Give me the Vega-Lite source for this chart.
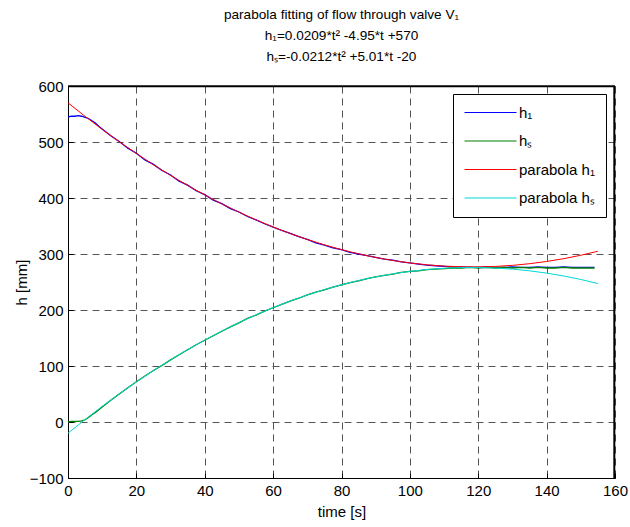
{
  "$schema": "https://vega.github.io/schema/vega-lite/v6.json",
  "width": 547,
  "height": 392,
  "autosize": {"type": "none"},
  "padding": {"left": 68, "top": 86, "right": 15, "bottom": 49},
  "background": "white",
  "config": {
    "font": "Liberation Sans",
    "view": {"stroke": null},
    "axis": {
      "domainColor": "black",
      "domainWidth": 1,
      "tickColor": "black",
      "tickSize": -5,
      "labelColor": "black",
      "labelFontSize": 15,
      "labelPadding": 10,
      "labelFlush": false,
      "titleFontSize": 15,
      "titleFontWeight": "normal",
      "titleColor": "black",
      "gridColor": "#555555",
      "gridDash": [7, 5],
      "gridWidth": 1,
      "gridOpacity": 1
    }
  },
  "title": {
    "text": [
      "parabola fitting of flow through valve V₁",
      "h₁=0.0209*t² -4.95*t +570",
      "hₛ=-0.0212*t² +5.01*t -20"
    ],
    "fontSize": 13.6,
    "fontWeight": "normal",
    "color": "black",
    "anchor": "middle",
    "lineHeight": 21,
    "offset": 15
  },
  "datasets": {
    "measured": [
      {"t": 0, "h": 545, "series": "h₁"}, {"t": 1, "h": 546, "series": "h₁"}, {"t": 2, "h": 546, "series": "h₁"},
      {"t": 3, "h": 547, "series": "h₁"}, {"t": 4, "h": 546, "series": "h₁"}, {"t": 5, "h": 544, "series": "h₁"},
      {"t": 6, "h": 542, "series": "h₁"}, {"t": 7, "h": 538, "series": "h₁"}, {"t": 8, "h": 534, "series": "h₁"},
      {"t": 9, "h": 528, "series": "h₁"}, {"t": 10, "h": 523, "series": "h₁"}, {"t": 12.5, "h": 511, "series": "h₁"},
      {"t": 15, "h": 501, "series": "h₁"}, {"t": 17.5, "h": 489, "series": "h₁"}, {"t": 20, "h": 480, "series": "h₁"},
      {"t": 22.5, "h": 468, "series": "h₁"}, {"t": 25, "h": 460, "series": "h₁"}, {"t": 27.5, "h": 449, "series": "h₁"},
      {"t": 30, "h": 441, "series": "h₁"}, {"t": 32.5, "h": 430, "series": "h₁"}, {"t": 35, "h": 423, "series": "h₁"},
      {"t": 37.5, "h": 413, "series": "h₁"}, {"t": 40, "h": 406, "series": "h₁"}, {"t": 42.5, "h": 396, "series": "h₁"},
      {"t": 45, "h": 390, "series": "h₁"}, {"t": 47.5, "h": 381, "series": "h₁"}, {"t": 50, "h": 375, "series": "h₁"},
      {"t": 52.5, "h": 367, "series": "h₁"}, {"t": 55, "h": 361, "series": "h₁"}, {"t": 57.5, "h": 354, "series": "h₁"},
      {"t": 60, "h": 348, "series": "h₁"}, {"t": 62.5, "h": 342, "series": "h₁"}, {"t": 65, "h": 337, "series": "h₁"},
      {"t": 67.5, "h": 331, "series": "h₁"}, {"t": 70, "h": 326, "series": "h₁"}, {"t": 72.5, "h": 320, "series": "h₁"},
      {"t": 75, "h": 316, "series": "h₁"}, {"t": 77.5, "h": 311, "series": "h₁"}, {"t": 80, "h": 308, "series": "h₁"},
      {"t": 82.5, "h": 303, "series": "h₁"}, {"t": 85, "h": 300, "series": "h₁"}, {"t": 87.5, "h": 297, "series": "h₁"},
      {"t": 90, "h": 294, "series": "h₁"}, {"t": 92.5, "h": 291, "series": "h₁"}, {"t": 95, "h": 289, "series": "h₁"},
      {"t": 97.5, "h": 286, "series": "h₁"}, {"t": 100, "h": 284, "series": "h₁"}, {"t": 102.5, "h": 282, "series": "h₁"},
      {"t": 105, "h": 280, "series": "h₁"}, {"t": 107.5, "h": 279, "series": "h₁"}, {"t": 110, "h": 278, "series": "h₁"},
      {"t": 112.5, "h": 277, "series": "h₁"}, {"t": 115, "h": 277, "series": "h₁"}, {"t": 117.5, "h": 276, "series": "h₁"},
      {"t": 120, "h": 276, "series": "h₁"}, {"t": 122.5, "h": 277, "series": "h₁"}, {"t": 125, "h": 276, "series": "h₁"},
      {"t": 127.5, "h": 276, "series": "h₁"}, {"t": 130, "h": 277, "series": "h₁"}, {"t": 132.5, "h": 276, "series": "h₁"},
      {"t": 135, "h": 276, "series": "h₁"}, {"t": 137.5, "h": 277, "series": "h₁"}, {"t": 140, "h": 276, "series": "h₁"},
      {"t": 142.5, "h": 276, "series": "h₁"}, {"t": 145, "h": 277, "series": "h₁"}, {"t": 147.5, "h": 276, "series": "h₁"},
      {"t": 150, "h": 276, "series": "h₁"}, {"t": 152.5, "h": 276, "series": "h₁"}, {"t": 154, "h": 276, "series": "h₁"},
      {"t": 0, "h": 0, "series": "hₛ"}, {"t": 1, "h": 1, "series": "hₛ"}, {"t": 2, "h": 1, "series": "hₛ"},
      {"t": 3, "h": 1, "series": "hₛ"}, {"t": 4, "h": 2, "series": "hₛ"}, {"t": 5, "h": 4, "series": "hₛ"},
      {"t": 6, "h": 8, "series": "hₛ"}, {"t": 7, "h": 13, "series": "hₛ"}, {"t": 8, "h": 17, "series": "hₛ"},
      {"t": 9, "h": 22, "series": "hₛ"}, {"t": 10, "h": 27, "series": "hₛ"}, {"t": 12.5, "h": 39, "series": "hₛ"},
      {"t": 15, "h": 50, "series": "hₛ"}, {"t": 17.5, "h": 61, "series": "hₛ"}, {"t": 20, "h": 72, "series": "hₛ"},
      {"t": 22.5, "h": 82, "series": "hₛ"}, {"t": 25, "h": 92, "series": "hₛ"}, {"t": 27.5, "h": 101, "series": "hₛ"},
      {"t": 30, "h": 111, "series": "hₛ"}, {"t": 32.5, "h": 120, "series": "hₛ"}, {"t": 35, "h": 129, "series": "hₛ"},
      {"t": 37.5, "h": 138, "series": "hₛ"}, {"t": 40, "h": 146, "series": "hₛ"}, {"t": 42.5, "h": 154, "series": "hₛ"},
      {"t": 45, "h": 162, "series": "hₛ"}, {"t": 47.5, "h": 170, "series": "hₛ"}, {"t": 50, "h": 177, "series": "hₛ"},
      {"t": 52.5, "h": 185, "series": "hₛ"}, {"t": 55, "h": 191, "series": "hₛ"}, {"t": 57.5, "h": 198, "series": "hₛ"},
      {"t": 60, "h": 204, "series": "hₛ"}, {"t": 62.5, "h": 210, "series": "hₛ"}, {"t": 65, "h": 216, "series": "hₛ"},
      {"t": 67.5, "h": 221, "series": "hₛ"}, {"t": 70, "h": 227, "series": "hₛ"}, {"t": 72.5, "h": 232, "series": "hₛ"},
      {"t": 75, "h": 236, "series": "hₛ"}, {"t": 77.5, "h": 241, "series": "hₛ"}, {"t": 80, "h": 245, "series": "hₛ"},
      {"t": 82.5, "h": 249, "series": "hₛ"}, {"t": 85, "h": 252, "series": "hₛ"}, {"t": 87.5, "h": 256, "series": "hₛ"},
      {"t": 90, "h": 259, "series": "hₛ"}, {"t": 92.5, "h": 262, "series": "hₛ"}, {"t": 95, "h": 264, "series": "hₛ"},
      {"t": 97.5, "h": 267, "series": "hₛ"}, {"t": 100, "h": 269, "series": "hₛ"}, {"t": 102.5, "h": 270, "series": "hₛ"},
      {"t": 105, "h": 272, "series": "hₛ"}, {"t": 107.5, "h": 273, "series": "hₛ"}, {"t": 110, "h": 274, "series": "hₛ"},
      {"t": 112.5, "h": 275, "series": "hₛ"}, {"t": 115, "h": 275, "series": "hₛ"}, {"t": 117.5, "h": 276, "series": "hₛ"},
      {"t": 120, "h": 275, "series": "hₛ"}, {"t": 122.5, "h": 276, "series": "hₛ"}, {"t": 125, "h": 275, "series": "hₛ"},
      {"t": 127.5, "h": 276, "series": "hₛ"}, {"t": 130, "h": 275, "series": "hₛ"}, {"t": 132.5, "h": 276, "series": "hₛ"},
      {"t": 135, "h": 275, "series": "hₛ"}, {"t": 137.5, "h": 276, "series": "hₛ"}, {"t": 140, "h": 275, "series": "hₛ"},
      {"t": 142.5, "h": 275, "series": "hₛ"}, {"t": 145, "h": 276, "series": "hₛ"}, {"t": 147.5, "h": 275, "series": "hₛ"},
      {"t": 150, "h": 275, "series": "hₛ"}, {"t": 152.5, "h": 275, "series": "hₛ"}, {"t": 154, "h": 275, "series": "hₛ"}
    ],
    "fitted": [
      {"t": 0, "h": 570, "series": "parabola h₁"}, {"t": 5, "h": 545.77, "series": "parabola h₁"},
      {"t": 10, "h": 522.59, "series": "parabola h₁"}, {"t": 15, "h": 500.45, "series": "parabola h₁"},
      {"t": 20, "h": 479.36, "series": "parabola h₁"}, {"t": 25, "h": 459.31, "series": "parabola h₁"},
      {"t": 30, "h": 440.31, "series": "parabola h₁"}, {"t": 35, "h": 422.35, "series": "parabola h₁"},
      {"t": 40, "h": 405.44, "series": "parabola h₁"}, {"t": 45, "h": 389.57, "series": "parabola h₁"},
      {"t": 50, "h": 374.75, "series": "parabola h₁"}, {"t": 55, "h": 360.97, "series": "parabola h₁"},
      {"t": 60, "h": 348.24, "series": "parabola h₁"}, {"t": 65, "h": 336.55, "series": "parabola h₁"},
      {"t": 70, "h": 325.91, "series": "parabola h₁"}, {"t": 75, "h": 316.31, "series": "parabola h₁"},
      {"t": 80, "h": 307.76, "series": "parabola h₁"}, {"t": 85, "h": 300.25, "series": "parabola h₁"},
      {"t": 90, "h": 293.79, "series": "parabola h₁"}, {"t": 95, "h": 288.37, "series": "parabola h₁"},
      {"t": 100, "h": 284.0, "series": "parabola h₁"}, {"t": 105, "h": 280.67, "series": "parabola h₁"},
      {"t": 110, "h": 278.39, "series": "parabola h₁"}, {"t": 115, "h": 277.15, "series": "parabola h₁"},
      {"t": 120, "h": 276.96, "series": "parabola h₁"}, {"t": 125, "h": 277.81, "series": "parabola h₁"},
      {"t": 130, "h": 279.71, "series": "parabola h₁"}, {"t": 135, "h": 282.65, "series": "parabola h₁"},
      {"t": 140, "h": 286.64, "series": "parabola h₁"}, {"t": 145, "h": 291.67, "series": "parabola h₁"},
      {"t": 150, "h": 297.75, "series": "parabola h₁"}, {"t": 155, "h": 304.87, "series": "parabola h₁"},
      {"t": 0, "h": -20, "series": "parabola hₛ"}, {"t": 5, "h": 4.52, "series": "parabola hₛ"},
      {"t": 10, "h": 27.98, "series": "parabola hₛ"}, {"t": 15, "h": 50.38, "series": "parabola hₛ"},
      {"t": 20, "h": 71.72, "series": "parabola hₛ"}, {"t": 25, "h": 92.0, "series": "parabola hₛ"},
      {"t": 30, "h": 111.22, "series": "parabola hₛ"}, {"t": 35, "h": 129.38, "series": "parabola hₛ"},
      {"t": 40, "h": 146.48, "series": "parabola hₛ"}, {"t": 45, "h": 162.52, "series": "parabola hₛ"},
      {"t": 50, "h": 177.5, "series": "parabola hₛ"}, {"t": 55, "h": 191.42, "series": "parabola hₛ"},
      {"t": 60, "h": 204.28, "series": "parabola hₛ"}, {"t": 65, "h": 216.08, "series": "parabola hₛ"},
      {"t": 70, "h": 226.82, "series": "parabola hₛ"}, {"t": 75, "h": 236.5, "series": "parabola hₛ"},
      {"t": 80, "h": 245.12, "series": "parabola hₛ"}, {"t": 85, "h": 252.68, "series": "parabola hₛ"},
      {"t": 90, "h": 259.18, "series": "parabola hₛ"}, {"t": 95, "h": 264.62, "series": "parabola hₛ"},
      {"t": 100, "h": 269.0, "series": "parabola hₛ"}, {"t": 105, "h": 272.32, "series": "parabola hₛ"},
      {"t": 110, "h": 274.58, "series": "parabola hₛ"}, {"t": 115, "h": 275.78, "series": "parabola hₛ"},
      {"t": 120, "h": 275.92, "series": "parabola hₛ"}, {"t": 125, "h": 275.0, "series": "parabola hₛ"},
      {"t": 130, "h": 273.02, "series": "parabola hₛ"}, {"t": 135, "h": 269.98, "series": "parabola hₛ"},
      {"t": 140, "h": 265.88, "series": "parabola hₛ"}, {"t": 145, "h": 260.72, "series": "parabola hₛ"},
      {"t": 150, "h": 254.5, "series": "parabola hₛ"}, {"t": 155, "h": 247.22, "series": "parabola hₛ"}
    ]
  },
  "layer": [
    {
      "data": {"name": "measured"},
      "mark": {"type": "line", "strokeWidth": 1.3, "interpolate": "linear"},
      "encoding": {
        "x": {"field": "t", "type": "quantitative", "scale": {"domain": [0, 160], "nice": false},
              "axis": {"title": "time [s]", "values": [0, 20, 40, 60, 80, 100, 120, 140, 160], "grid": true, "titlePadding": 6}},
        "y": {"field": "h", "type": "quantitative", "scale": {"domain": [-100, 600], "nice": false, "zero": false},
              "axis": {"title": "h [mm]", "values": [-100, 0, 100, 200, 300, 400, 500, 600], "grid": true, "titlePadding": 0}},
        "color": {
          "field": "series", "type": "nominal",
          "scale": {"domain": ["h₁", "hₛ", "parabola h₁", "parabola hₛ"], "range": ["#0000FF", "#008000", "#FF0000", "#00D8D8"]},
          "legend": {
            "title": null, "orient": "none", "legendX": 385, "legendY": 8,
            "strokeColor": "black", "fillColor": "white", "padding": 11,
            "symbolType": "M-5,0H5", "symbolSize": 108, "symbolStrokeWidth": 1.2,
            "symbolOffset": 19, "labelFontSize": 15, "labelColor": "black",
            "rowPadding": 12.5, "labelOffset": 21
          }
        }
      }
    },
    {
      "data": {"name": "fitted"},
      "mark": {"type": "line", "strokeWidth": 1, "interpolate": "linear"},
      "encoding": {
        "x": {"field": "t", "type": "quantitative"},
        "y": {"field": "h", "type": "quantitative"},
        "color": {"field": "series", "type": "nominal"}
      }
    },
    {
      "data": {"values": [{}]},
      "mark": {"type": "rule", "color": "#000000", "strokeWidth": 2, "clip": false},
      "encoding": {
        "x": {"datum": 0, "type": "quantitative"},
        "x2": {"datum": 160},
        "y": {"datum": 599.5, "type": "quantitative"}
      }
    },
    {
      "data": {"values": [{}]},
      "mark": {"type": "rule", "color": "#000000", "strokeWidth": 2, "clip": false},
      "encoding": {
        "x": {"datum": 159.8, "type": "quantitative"},
        "y": {"datum": -100, "type": "quantitative"},
        "y2": {"datum": 600}
      }
    }
  ]
}
